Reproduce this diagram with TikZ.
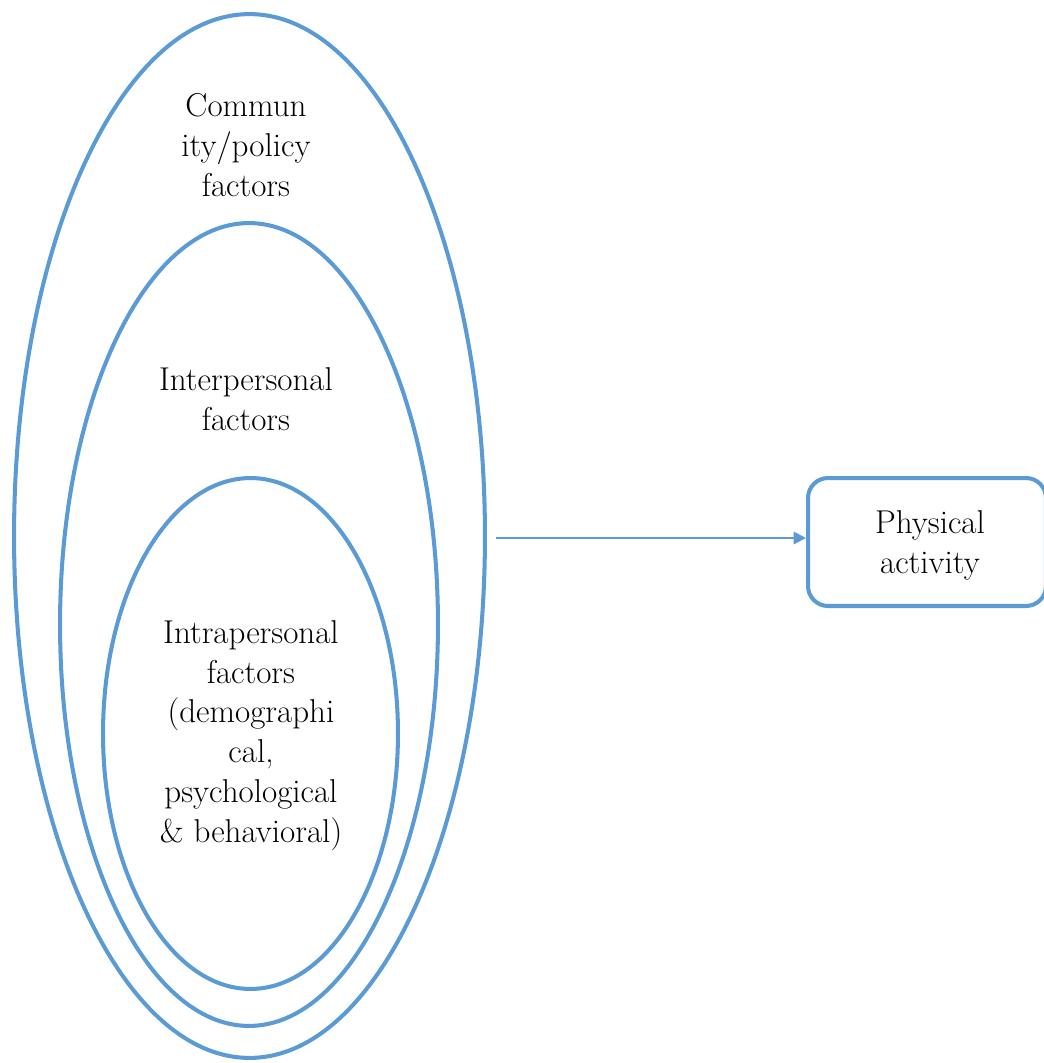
\documentclass[tikz,border=0pt]{standalone}
\usepackage{tikz}
\usetikzlibrary{positioning,shapes.geometric,arrows.meta}

\definecolor{ringblue}{RGB}{91,155,213}

\tikzset{
  ring/.style={draw=ringblue, line width=2.3pt, ellipse, inner sep=0pt},
  lbl/.style={align=center, font=\fontsize{18.8}{22.7}\selectfont},
}

\begin{document}
\begin{tikzpicture}[x=0.02cm, y=-0.02cm]
\useasboundingbox (0,0) rectangle (1044,1063);

% nested rings
\node[ring, minimum width=9.42cm, minimum height=20.88cm] (outer) at (249.5, 536) {};
\node[ring, minimum width=7.56cm, minimum height=16.06cm] (middle) at (249, 624.5) {};
\node[ring, minimum width=5.9cm, minimum height=10.22cm] (inner) at (250.5, 733.5) {};

\node[lbl] (community) at (246, 145) {Commun\\ity/policy\\factors};
\node[lbl] (inter) at (246, 399.5) {Interpersonal\\factors};
\node[lbl] (intra) at (251, 735.5) {Intrapersonal\\factors\\(demographi\\cal,\\psychological\\\& behavioral)};

% outcome
\node[draw=ringblue, line width=2.3pt, rounded corners=0.4cm, minimum width=4.76cm,
      minimum height=2.56cm] (pa) at (927, 542) {};
\node[lbl] (patext) at (930, 545) {Physical\\activity};

\draw[ringblue, line width=1.2pt, -{Triangle[length=7pt, width=7pt]}, shorten <=5pt]
  (outer.east |- 0,538) -- (pa.west |- 0,538);
\end{tikzpicture}
\end{document}
